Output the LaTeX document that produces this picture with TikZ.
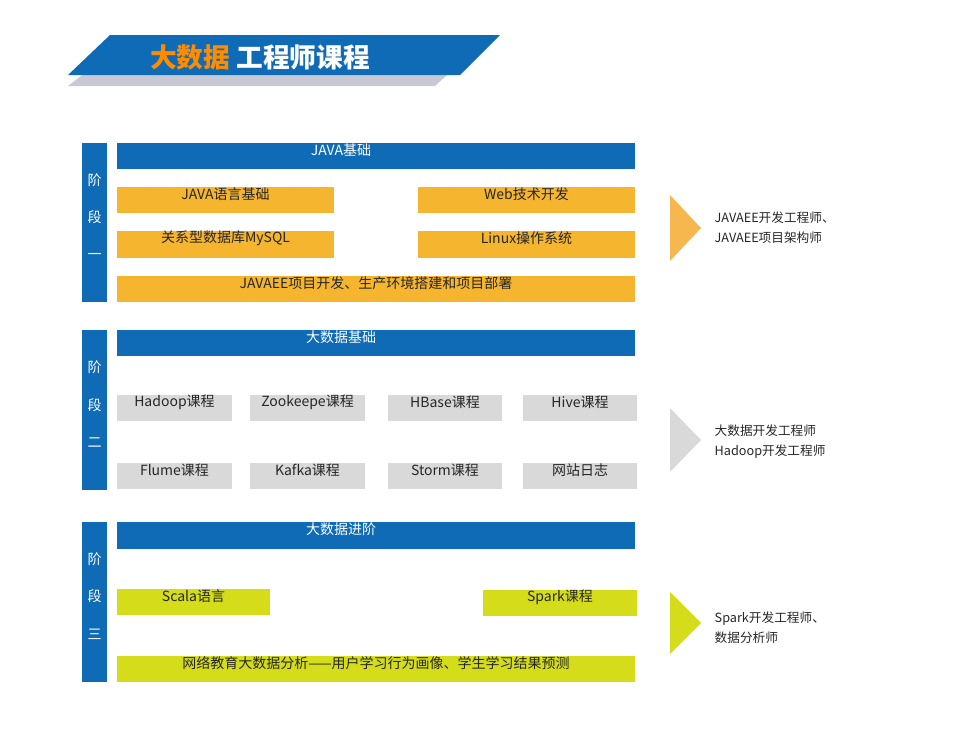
\documentclass[tikz,border=0pt]{standalone}
\usepackage{fontspec}
\setmainfont{Noto Sans CJK SC}
\usetikzlibrary{fit}
\definecolor{cblue}{HTML}{0F6BB5}
\definecolor{corange}{HTML}{F5B52E}
\definecolor{clight}{HTML}{F6B74E}
\definecolor{cgray}{HTML}{D9D9D9}
\definecolor{cgreen}{HTML}{D5DD1B}
\definecolor{cshadow}{HTML}{C9C9D6}
\tikzstyle{box}=[fit={#1}, inner sep=0pt, font=\fontsize{10.5}{12}\selectfont, text=black!85]
\tikzstyle{head}=[box={#1}, fill=cblue, text=white]
\tikzstyle{stage}=[box={#1}, fill=cblue, text=white, align=center]
\tikzstyle{role}=[anchor=west, align=left, font=\fontsize{9.5}{15}\selectfont, text=black!85]
\begin{document}
\begin{tikzpicture}[x=0.75pt, y=-0.75pt]
  \useasboundingbox (0,0) rectangle (960,746);
  % title banner
  \fill[cshadow] (118,47) -- (478,47) -- (435,86) -- (68,86) -- cycle;
  \fill[cblue] (110,35) -- (500,35) -- (460,75) -- (68,75) -- cycle;
  \node (title) at (260,57) {\fontsize{20}{24}\selectfont\bfseries
    \textcolor{orange!90!yellow}{大数据} \textcolor{white}{工程师课程}};

  % stage one
  \node[stage={(82,143)(107,302)}] (s1) {阶\\[16pt]段\\[16pt]一};
  \node[head={(117,143)(635,169)}] (h1) {\hspace*{-5em}JAVA基础};
  \node[box={(117,187)(334,213)}, fill=corange] (java) {JAVA语言基础};
  \node[box={(418,187)(635,213)}, fill=corange] (web) {Web技术开发};
  \node[box={(117,231)(334,258)}, fill=corange] (mysql) {关系型数据库MySQL};
  \node[box={(418,231)(635,258)}, fill=corange] (linux) {Linux操作系统};
  \node[box={(117,276)(635,302)}, fill=corange] (ee) {JAVAEE项目开发、生产环境搭建和项目部署};
  \fill[clight] (670,195) -- (701,228) -- (670,261) -- cycle;
  \node[role] (r1) at (710,228) {JAVAEE开发工程师、\\JAVAEE项目架构师};

  % stage two
  \node[stage={(82,330)(107,490)}] (s2) {阶\\[16pt]段\\[16pt]二};
  \node[head={(117,330)(635,356)}] (h2) {\hspace*{-5em}大数据基础};
  \node[box={(117,395)(232,421)}, fill=cgray] (hadoop) {Hadoop课程};
  \node[box={(250,395)(365,421)}, fill=cgray] (zoo) {Zookeepe课程};
  \node[box={(388,395)(502,421)}, fill=cgray] (hbase) {HBase课程};
  \node[box={(523,395)(637,421)}, fill=cgray] (hive) {Hive课程};
  \node[box={(117,463)(232,489)}, fill=cgray] (flume) {Flume课程};
  \node[box={(250,463)(365,489)}, fill=cgray] (kafka) {Kafka课程};
  \node[box={(388,463)(502,489)}, fill=cgray] (storm) {Storm课程};
  \node[box={(523,463)(637,489)}, fill=cgray] (log) {网站日志};
  \fill[cgray] (670,408) -- (701,440) -- (670,472) -- cycle;
  \node[role] (r2) at (710,442) {大数据开发工程师\\Hadoop开发工程师};

  % stage three
  \node[stage={(82,522)(107,682)}] (s3) {阶\\[16pt]段\\[16pt]三};
  \node[head={(117,522)(635,549)}] (h3) {\hspace*{-5em}大数据进阶};
  \node[box={(117,589)(270,615)}, fill=cgreen] (scala) {Scala语言};
  \node[box={(483,590)(637,616)}, fill=cgreen] (spark) {Spark课程};
  \node[box={(117,656)(635,682)}, fill=cgreen] (edu) {网络教育大数据分析——用户学习行为画像、学生学习结果预测};
  \fill[cgreen] (670,592) -- (701,623) -- (670,654) -- cycle;
  \node[role] (r3) at (710,628) {Spark开发工程师、\\数据分析师};
\end{tikzpicture}
\end{document}
